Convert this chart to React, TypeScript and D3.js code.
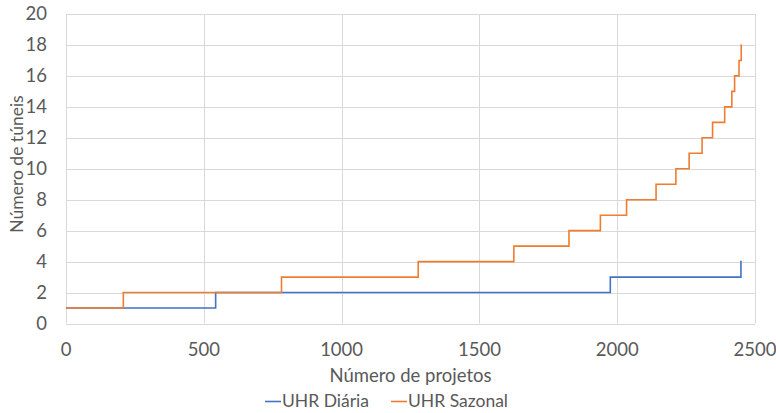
import { useMemo } from "react";
import * as d3 from "d3";

// step points: x = número de projetos where the count changes, y = número de túneis
const projetosDiaria = [0, 543, 1975, 2449, 2452];
const tuneisDiaria = [1, 2, 3, 4, 4];

const projetosSazonal = [
  0, 208, 782, 1278, 1625, 1825, 1939, 2034, 2141, 2213, 2261, 2308, 2346,
  2390, 2416, 2426, 2442, 2450, 2452,
];
const tuneisSazonal = [1, 2, 3, 4, 5, 6, 7, 8, 9, 10, 11, 12, 13, 14, 15, 16, 17, 18, 18];

const xTicks = [0, 500, 1000, 1500, 2000, 2500];
const yTicks = [0, 2, 4, 6, 8, 10, 12, 14, 16, 18, 20];

const seriesNames = ["UHR Diária", "UHR Sazonal"];
const seriesColors = ["#4472C4", "#ED7D31"];

const WIDTH = 776;
const HEIGHT = 413;
const FONT = "Lato, Carlito, 'Open Sans', sans-serif";
const TEXT = "#595959";

export default function App() {
  const margin = { left: 66, right: 21, top: 14, bottom: 89.5 };

  const x = d3
    .scaleLinear()
    .domain([0, 2500])
    .range([margin.left, WIDTH - margin.right]);
  const y = d3
    .scaleLinear()
    .domain([0, 20])
    .range([HEIGHT - margin.bottom, margin.top]);

  const paths = useMemo(() => {
    const line = d3
      .line<[number, number]>()
      .x((d) => x(d[0]))
      .y((d) => y(d[1]))
      .curve(d3.curveStepAfter);
    const daily = projetosDiaria.map((p, i) => [p, tuneisDiaria[i]] as [number, number]);
    const seasonal = projetosSazonal.map((p, i) => [p, tuneisSazonal[i]] as [number, number]);
    return [line(daily) ?? "", line(seasonal) ?? ""];
  }, []);

  const [x0, x1] = x.range();
  const [y0, y1] = y.range();

  return (
    <svg
      width={WIDTH}
      height={HEIGHT}
      style={{ position: "absolute", left: 0, top: 0, background: "#fff" }}
      fontFamily={FONT}
    >
      {/* grid */}
      <g stroke="#d9d9d9" strokeWidth={1}>
        {yTicks.map((t) => (
          <line key={"gy" + t} x1={x0} x2={x1} y1={Math.round(y(t)) + 0.5} y2={Math.round(y(t)) + 0.5} />
        ))}
        {xTicks.map((t) => (
          <line key={"gx" + t} x1={Math.round(x(t)) + 0.5} x2={Math.round(x(t)) + 0.5} y1={y1} y2={y0} />
        ))}
      </g>

      {/* y tick labels */}
      <g fill={TEXT} fontSize={18.5} textAnchor="end">
        {yTicks.map((t) => (
          <text key={"ly" + t} x={47} y={y(t)} dy="0.35em">
            {t}
          </text>
        ))}
      </g>

      {/* x tick labels */}
      <g fill={TEXT} fontSize={18.5} textAnchor="middle">
        {xTicks.map((t) => (
          <text key={"lx" + t} x={x(t)} y={350} dy="0.35em">
            {t}
          </text>
        ))}
      </g>

      {/* series */}
      {paths.map((d, i) => (
        <path
          key={seriesNames[i]}
          d={d}
          fill="none"
          stroke={seriesColors[i]}
          strokeWidth={1.6}
          strokeLinejoin="miter"
        />
      ))}

      {/* axis titles */}
      <text
        x={(x0 + x1) / 2}
        y={376}
        dy="0.35em"
        textAnchor="middle"
        fontSize={18.5}
        fill={TEXT}
      >
        Número de projetos
      </text>
      <text
        transform={`translate(17, 164) rotate(-90)`}
        dy="0.35em"
        textAnchor="middle"
        fontSize={17.5}
        fill={TEXT}
      >
        Número de túneis
      </text>

      {/* legend */}
      <g fontSize={17.5} fill={TEXT}>
        {seriesNames.map((name, i) => {
          const lx = i === 0 ? 265 : 391;
          return (
            <g key={name}>
              <line x1={lx} x2={lx + 16} y1={401.5} y2={401.5} stroke={seriesColors[i]} strokeWidth={1.6} />
              <text x={lx + 17} y={401} dy="0.35em">
                {name}
              </text>
            </g>
          );
        })}
      </g>
    </svg>
  );
}
